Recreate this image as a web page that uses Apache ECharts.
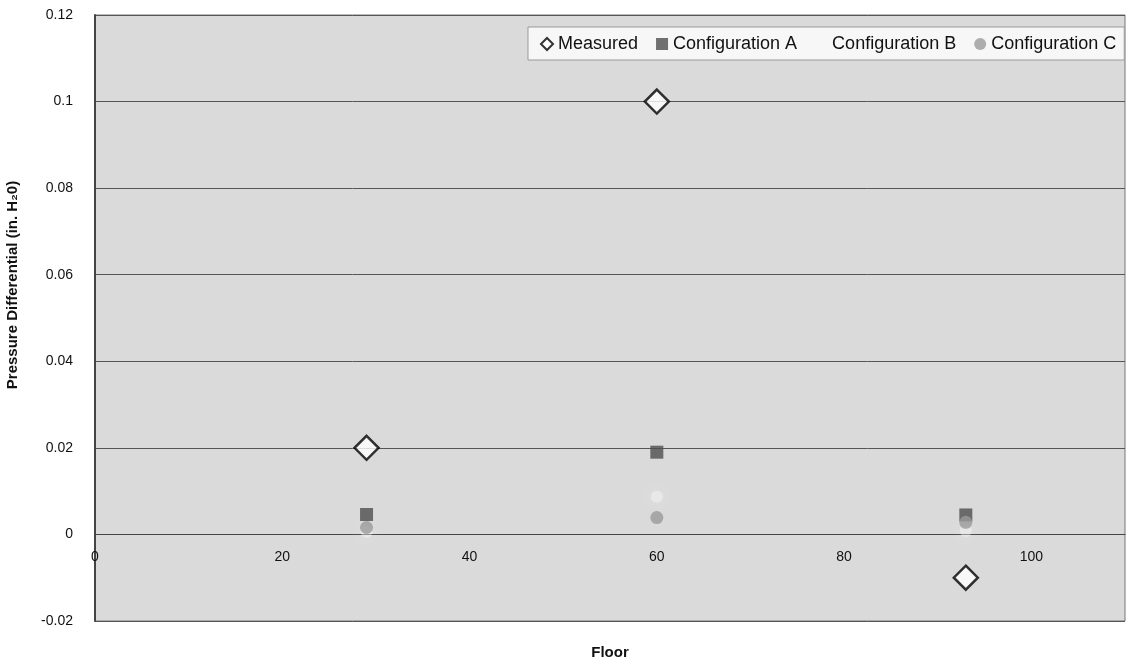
<!DOCTYPE html>
<html><head><meta charset="utf-8">
<script src="https://cdn.jsdelivr.net/npm/echarts@6/dist/echarts.min.js"></script>
<style>html,body{margin:0;padding:0;background:#fff}#c{width:1130px;height:663px}</style>
</head><body><div id="c"></div>
<script>
const floors = [29, 60, 93];
const measured = [0.02, 0.1, -0.01];
const configA = [0.0046, 0.019, 0.0045];
const configB = [0.0006, 0.0087, 0.0008];
const configC = [0.0016, 0.0039, 0.0028];
const yTicks = [-0.02, 0, 0.02, 0.04, 0.06, 0.08, 0.1, 0.12];
const xTicks = [0, 20, 40, 60, 80, 100];

const pairs = arr => floors.map((f, i) => [f, arr[i]]);
const chart = echarts.init(document.getElementById('c'));
const font = 'Liberation Sans, Arial, sans-serif';
const gridH = 606, yMin = -0.02, yMax = 0.12;
const zeroOffset = -gridH * (0 - yMin) / (yMax - yMin);
chart.setOption({
  animation: false,
  backgroundColor: '#fff',
  grid: {left: 95, top: 15, width: 1030, height: gridH, show: true, outerBoundsMode: 'none', containLabel: false,
         backgroundColor: '#dadada', borderColor: '#777', borderWidth: 1},
  legend: {
    top: 27, left: 528, itemGap: 18, itemWidth: 12, itemHeight: 12,
    backgroundColor: '#f7f7f7', borderColor: '#999', borderWidth: 1,
    padding: [8, 8, 7, 12],
    textStyle: {fontFamily: font, fontSize: 18, color: '#111'},
    data: ['Measured', 'Configuration A', {name: 'Configuration B', itemStyle: {opacity: 0}}, 'Configuration C']
  },
  xAxis: {
    type: 'value', min: 0, max: 110, interval: 20,
    offset: zeroOffset,
    name: 'Floor', nameLocation: 'middle', nameGap: 111,
    nameTextStyle: {fontFamily: font, fontSize: 15, fontWeight: 'bold', color: '#111'},
    axisLine: {onZero: false, lineStyle: {color: '#444'}},
    axisTick: {show: false},
    splitLine: {show: false},
    axisLabel: {fontFamily: font, fontSize: 14, color: '#111', margin: 16,
      formatter: v => xTicks.includes(v) ? String(v) : ''}
  },
  yAxis: {
    type: 'value', min: yMin, max: yMax, interval: 0.02,
    name: 'Pressure Differential (in. H₂0)', nameLocation: 'middle', nameGap: 75,
    nameTextStyle: {fontFamily: font, fontSize: 15, fontWeight: 'bold', color: '#111', padding: [0, 0, 0, 66]},
    axisLine: {show: true, lineStyle: {color: '#444', width: 2}},
    axisTick: {show: false},
    splitLine: {show: true, lineStyle: {color: '#555', width: 1}},
    axisLabel: {fontFamily: font, fontSize: 14, color: '#111', margin: 22,
      formatter: v => { const t = yTicks.find(y => Math.abs(y - v) < 1e-9); return t === undefined ? '' : String(t); }}
  },
  series: [
    {name: 'Measured', type: 'scatter', data: pairs(measured), symbol: 'diamond', symbolSize: 24, z: 5,
     itemStyle: {color: '#fff', borderColor: '#000', borderWidth: 2.5}},
    {name: 'Configuration A', type: 'scatter', data: pairs(configA), symbol: 'rect', symbolSize: 13, z: 4,
     itemStyle: {color: '#4d4d4d'}},
    {name: 'Configuration B', type: 'scatter', data: pairs(configB), symbol: 'circle', symbolSize: 12, z: 3,
     itemStyle: {color: 'rgba(255,255,255,0.45)', shadowBlur: 16, shadowColor: 'rgba(255,255,255,0.9)'}},
    {name: 'Configuration C', type: 'scatter', data: pairs(configC), symbol: 'circle', symbolSize: 13, z: 4,
     itemStyle: {color: '#9a9a9a'}}
  ]
});
</script></body></html>
